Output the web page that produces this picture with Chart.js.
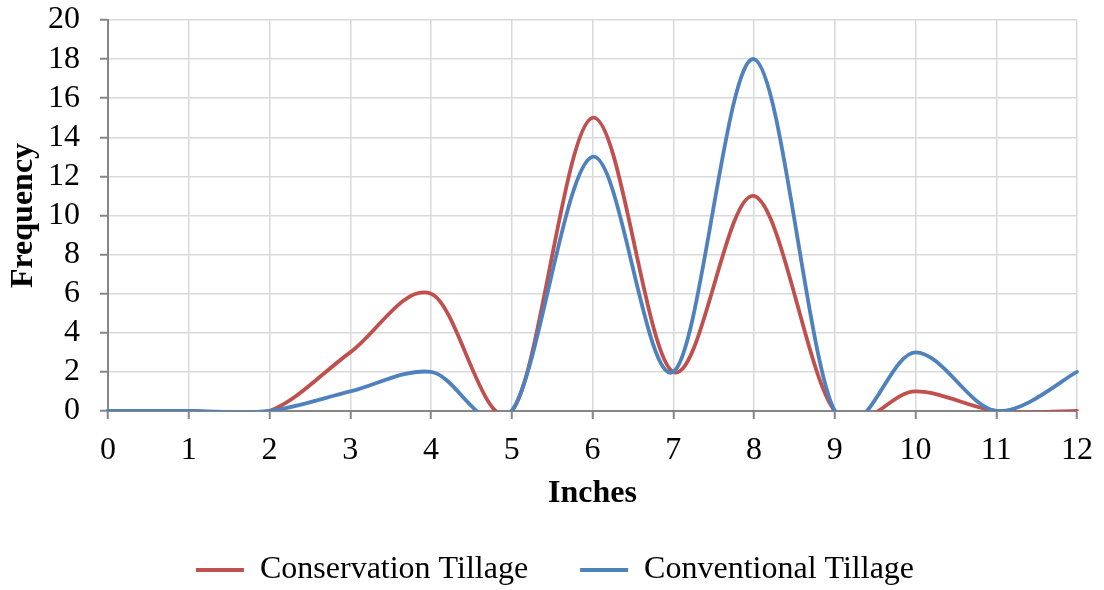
<!DOCTYPE html>
<html>
<head>
<meta charset="utf-8">
<script src="https://cdn.jsdelivr.net/npm/chart.js@4"></script>
<style>
  html, body { margin: 0; padding: 0; background: #fff; }
  #wrap { width: 1104px; height: 590px; position: relative; }
</style>
</head>
<body>
<div id="wrap"><canvas id="c" width="1104" height="590"></canvas></div>
<script>
const categories = ['0','1','2','3','4','5','6','7','8','9','10','11','12'];
const conservationTillage = [0, 0, 0, 3, 6, 0, 15, 2, 11, 0, 1, 0, 0];
const conventionalTillage = [0, 0, 0, 1, 2, 0, 13, 2, 18, 0, 3, 0, 2];
const yMin = 0, yMax = 20, yStep = 2;
const seriesNames = ['Conservation Tillage', 'Conventional Tillage'];
const seriesColors = ['#C0504D', '#4F81BD'];

const FONT = "'Liberation Serif', 'Times New Roman', serif";
const FS_TICK = 32;
const FS = 32;

// Excel-style smoothing: uniform Catmull-Rom control points from the scaled point positions
const smoothPlugin = {
  id: 'excelSmooth',
  beforeDatasetsDraw(chart) {
    chart.getSortedVisibleDatasetMetas().forEach(meta => {
      const pts = meta.data, n = pts.length;
      for (let i = 0; i < n; i++) {
        const p = pts[i], prev = pts[Math.max(i - 1, 0)], next = pts[Math.min(i + 1, n - 1)];
        const dx = (next.x - prev.x) / 6, dy = (next.y - prev.y) / 6;
        p.cp1x = p.x - dx; p.cp1y = p.y - dy;
        p.cp2x = p.x + dx; p.cp2y = p.y + dy;
      }
      if (meta.dataset) meta.dataset._pointsUpdated = true;
    });
  }
};

const layoutPlugin = {
  id: 'layoutTweak',
  beforeLayout(chart) {
    const lg = chart.legend;
    if (lg && !lg._patched) {
      const f = lg.fit;
      lg.fit = function () { f.call(this); this.height = 77; };
      lg._patched = true;
    }
  },
  afterLayout(chart) {
    const lg = chart.legend;
    if (lg) {
      lg.top = 502; lg.height = lg.bottom - lg.top;
      lg.left += 16.5; lg.right += 16.5;
    }
  }
};

new Chart(document.getElementById('c'), {
  type: 'line',
  data: {
    labels: categories,
    datasets: [
      { label: seriesNames[0], data: conservationTillage, borderColor: seriesColors[0], backgroundColor: seriesColors[0], pointBorderColor: seriesColors[0], order: 1 },
      { label: seriesNames[1], data: conventionalTillage, borderColor: seriesColors[1], backgroundColor: seriesColors[1], pointBorderColor: seriesColors[1], order: 0 }
    ]
  },
  options: {
    responsive: false,
    animation: false,
    devicePixelRatio: 1,
    layout: { padding: { left: 0, right: 27, top: 20, bottom: 0 } },
    elements: {
      line: { borderWidth: 3.8, tension: 0.4, fill: false, borderCapStyle: 'round', capBezierPoints: false },
      point: { radius: 0, hoverRadius: 0, borderWidth: 3.8 }
    },
    plugins: {
      tooltip: { enabled: false },
      legend: {
        position: 'bottom',
        labels: {
          usePointStyle: true,
          pointStyle: 'line',
          pointStyleWidth: 48,
          padding: 52,
          color: '#000',
          font: { family: FONT, size: FS },
          sort: (a, b) => a.datasetIndex - b.datasetIndex
        }
      }
    },
    scales: {
      x: {
        offset: false,
        afterFit(s) { s.height = 102; s.paddingLeft = 0; s.paddingRight = 0; },
        grid: { color: '#d9d9d9', lineWidth: 1.5, tickColor: '#868686', tickLength: 8, tickWidth: 2 },
        border: { color: '#868686', width: 2 },
        ticks: { color: '#000', font: { family: FONT, size: FS_TICK }, padding: 12, maxRotation: 0, autoSkip: false },
        title: { display: true, text: 'Inches', color: '#000', font: { family: FONT, size: FS, weight: 'bold' }, padding: { top: 0, bottom: 0 } }
      },
      y: {
        min: yMin, max: yMax,
        afterFit(s) { s.width = 108; s.paddingTop = 0; s.paddingBottom = 0; },
        grid: { color: '#d9d9d9', lineWidth: 1.5, tickColor: '#868686', tickLength: 8, tickWidth: 2 },
        border: { color: '#868686', width: 2 },
        ticks: { stepSize: yStep, autoSkip: false, color: '#000', font: { family: FONT, size: FS_TICK }, padding: 20 },
        title: { display: true, text: 'Frequency', color: '#000', font: { family: FONT, size: FS, weight: 'bold' }, padding: { top: 5, bottom: 0 } }
      }
    }
  },
  plugins: [layoutPlugin, smoothPlugin]
});
</script>
</body>
</html>
